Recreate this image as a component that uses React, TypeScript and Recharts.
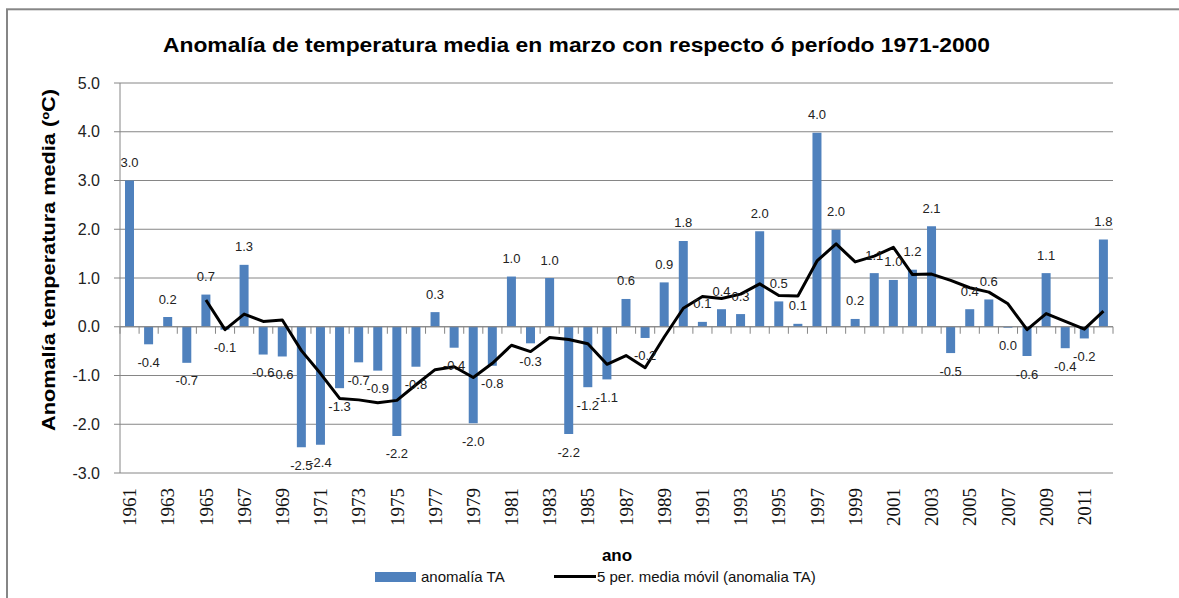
import React from "react";
import {
  ComposedChart,
  Bar,
  Line,
  XAxis,
  YAxis,
  CartesianGrid,
  ReferenceLine,
  LabelList,
  Legend,
} from "recharts";

const years = [
  1961, 1962, 1963, 1964, 1965, 1966, 1967, 1968, 1969, 1970,
  1971, 1972, 1973, 1974, 1975, 1976, 1977, 1978, 1979, 1980,
  1981, 1982, 1983, 1984, 1985, 1986, 1987, 1988, 1989, 1990,
  1991, 1992, 1993, 1994, 1995, 1996, 1997, 1998, 1999, 2000,
  2001, 2002, 2003, 2004, 2005, 2006, 2007, 2008, 2009, 2010,
  2011, 2012,
];

const anomalia = [
  3.0, -0.36, 0.2, -0.74, 0.66, -0.06, 1.27, -0.57, -0.61, -2.47,
  -2.42, -1.26, -0.73, -0.9, -2.24, -0.82, 0.3, -0.43, -1.98, -0.8,
  1.03, -0.34, 1.0, -2.2, -1.24, -1.08, 0.57, -0.23, 0.91, 1.76,
  0.1, 0.36, 0.26, 1.96, 0.52, 0.06, 3.98, 1.99, 0.16, 1.1,
  0.96, 1.17, 2.06, -0.54, 0.36, 0.56, -0.02, -0.6, 1.1, -0.44,
  -0.24, 1.79,
];

const mediaMovil = [
  null, null, null, null,
  0.55, -0.06, 0.26, 0.11, 0.14, -0.49, -0.96, -1.47, -1.5, -1.56,
  -1.51, -1.19, -0.88, -0.82, -1.04, -0.75, -0.38, -0.51, -0.22, -0.26,
  -0.35, -0.77, -0.59, -0.84, -0.21, 0.38, 0.62, 0.58, 0.67, 0.88,
  0.64, 0.63, 1.35, 1.7, 1.33, 1.45, 1.63, 1.07, 1.08, 0.95,
  0.8, 0.71, 0.47, -0.06, 0.27, 0.11, -0.05, 0.32,
];

const yTicks = [-3, -2, -1, 0, 1, 2, 3, 4, 5];

const TITLE = "Anomalía de temperatura media en marzo con respecto ó período 1971-2000";
const Y_TITLE = "Anomalía temperatura media (ºC)";
const X_TITLE = "ano";
const BAR_NAME = "anomalía TA";
const LINE_NAME = "5 per. media móvil (anomalia TA)";

const data = years.map((y, i) => ({
  year: String(y),
  anomalia: anomalia[i],
  movil: mediaMovil[i],
}));

const BLUE = "#4F81BD";
const GRID = "#868686";
const SANS = "'Liberation Sans', Arial, sans-serif";
const SERIF = "'Liberation Serif', 'Times New Roman', serif";

const fmt = (v: number) => {
  const s = Number(v).toFixed(1);
  return s === "-0.0" ? "0.0" : s;
};

const XTick = (props: any) => {
  const { x, y, payload } = props;
  const ty = y + 7;
  return (
    <text
      x={x}
      y={ty}
      dy="0.35em"
      transform={`rotate(-90, ${x}, ${ty})`}
      textAnchor="end"
      fontFamily={SERIF}
      fontSize={19}
      fill="#111"
    >
      {payload.value}
    </text>
  );
};

const BarLabel = (props: any) => {
  const { x, y, width, height, value } = props;
  if (value === null || value === undefined) return null;
  const top = Math.min(y, y + height);
  const bottom = Math.max(y, y + height);
  const cx = x + width / 2;
  const ty = value >= 0 ? top - 13.5 : bottom + 22.5;
  return (
    <text x={cx} y={ty} textAnchor="middle" fontFamily={SANS} fontSize={13} fill="#222">
      {fmt(value)}
    </text>
  );
};

const ZeroLine = (props: any) => {
  const { x1, y1, x2, y2 } = props;
  const n = years.length;
  const step = (x2 - x1) / n;
  const ticks = [];
  for (let i = 0; i <= n; i++) {
    const tx = x1 + i * step;
    ticks.push(<line key={i} x1={tx} y1={y1} x2={tx} y2={y1 + 7} stroke={GRID} strokeWidth={1} />);
  }
  return (
    <g>
      <line x1={x1} y1={y1} x2={x2} y2={y2} stroke={GRID} strokeWidth={1.2} />
      {ticks}
    </g>
  );
};

const LegendContent = () => (
  <div
    style={{
      display: "flex",
      alignItems: "center",
      fontFamily: SANS,
      fontSize: 15,
      color: "#111",
      position: "relative",
      height: 20,
    }}
  >
    <div style={{ position: "absolute", left: 375, top: 5, width: 41, height: 10, background: BLUE }} />
    <div style={{ position: "absolute", left: 421, top: 1, whiteSpace: "nowrap" }}>{BAR_NAME}</div>
    <div style={{ position: "absolute", left: 554, top: 8, width: 42, height: 3, background: "#000" }} />
    <div style={{ position: "absolute", left: 597, top: 1, whiteSpace: "nowrap" }}>{LINE_NAME}</div>
  </div>
);

export default function App() {
  return (
    <div style={{ position: "absolute", left: 0, top: 0, width: 1179, height: 598, background: "#fff", overflow: "hidden" }}>
      <svg width={1179} height={598} style={{ position: "absolute", left: 0, top: 0 }}>
        <rect x={7} y={9.3} width={1250} height={650} fill="none" stroke={GRID} strokeWidth={2} />
      </svg>
      <div style={{ position: "absolute", left: 0, top: 0 }}>
        <ComposedChart
          width={1179}
          height={598}
          data={data}
          margin={{ top: 83, right: 66, bottom: 65, left: 0 }}
          barCategoryGap={0}
        >
          <CartesianGrid vertical={false} stroke={GRID} strokeWidth={1} />
          <XAxis
            dataKey="year"
            interval={1}
            axisLine={false}
            tickLine={false}
            tick={<XTick />}
            height={60}
          />
          <YAxis
            width={120}
            domain={[-3, 5]}
            ticks={yTicks}
            tickFormatter={fmt}
            axisLine={{ stroke: GRID }}
            tickLine={{ stroke: GRID }}
            tickSize={6}
            tickMargin={14}
            tick={{ fontFamily: SANS, fontSize: 16, fill: "#222" }}
            allowDataOverflow
          />
          <Bar dataKey="anomalia" name={BAR_NAME} fill={BLUE} barSize={9} isAnimationActive={false}>
            <LabelList dataKey="anomalia" content={<BarLabel />} />
          </Bar>
          <ReferenceLine y={0} shape={(p: any) => <ZeroLine {...p} />} />
          <Line
            dataKey="movil"
            name={LINE_NAME}
            type="linear"
            stroke="#000"
            strokeWidth={3}
            dot={false}
            activeDot={false}
            isAnimationActive={false}
            strokeLinejoin="round"
          />
          <Legend
            layout="horizontal"
            verticalAlign="middle"
            align="center"
            wrapperStyle={{ top: 567, left: 0, width: 1179, height: 20 }}
            content={<LegendContent />}
          />
        </ComposedChart>
      </div>
      <svg width={1179} height={598} style={{ position: "absolute", left: 0, top: 0, pointerEvents: "none" }}>
        <text
          x={576.5}
          y={52}
          textAnchor="middle"
          fontFamily={SANS}
          fontWeight="bold"
          fontSize={21}
          fill="#000"
          textLength={827}
          lengthAdjust="spacingAndGlyphs"
        >
          {TITLE}
        </text>
        <text
          x={55}
          y={260}
          transform="rotate(-90, 55, 260)"
          textAnchor="middle"
          fontFamily={SANS}
          fontWeight="bold"
          fontSize={18}
          fill="#000"
          textLength={342}
          lengthAdjust="spacingAndGlyphs"
        >
          {Y_TITLE}
        </text>
        <text x={617} y={561} textAnchor="middle" fontFamily={SANS} fontWeight="bold" fontSize={17} fill="#000">
          {X_TITLE}
        </text>
      </svg>
    </div>
  );
}
